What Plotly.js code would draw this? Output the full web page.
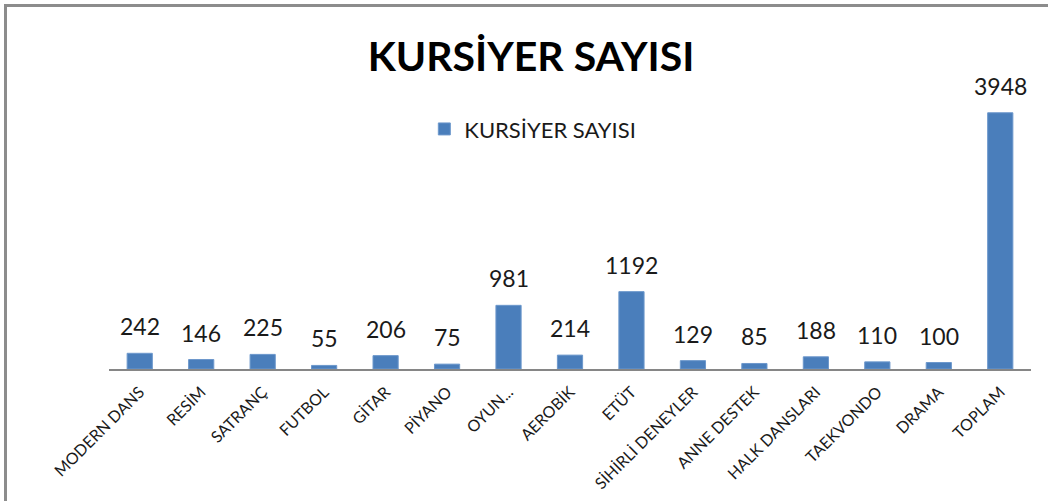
<!DOCTYPE html>
<html>
<head>
<meta charset="utf-8">
<script src="https://cdn.plot.ly/plotly-3.0.1.min.js"></script>
<style>
  html, body { margin: 0; padding: 0; background: #fff; }
  #chart { position: absolute; left: 0; top: 0; width: 1048px; height: 501px; }
  #frame { position: absolute; left: 4px; top: 4px; width: 1100px; height: 600px;
           border-left: 3px solid #8c8c8c; border-top: 3px solid #8c8c8c; pointer-events: none; }
</style>
</head>
<body>
<div id="chart"></div>
<div id="frame"></div>
<script>
const categories = ["MODERN DANS", "RESİM", "SATRANÇ", "FUTBOL", "GİTAR", "PİYANO", "OYUN...",
  "AEROBİK", "ETÜT", "SİHİRLİ DENEYLER", "ANNE DESTEK", "HALK DANSLARI", "TAEKVONDO", "DRAMA", "TOPLAM"];
const values = [242, 146, 225, 55, 206, 75, 981, 214, 1192, 129, 85, 188, 110, 100, 3948];
const seriesName = "KURSİYER SAYISI";
const chartTitle = "KURSİYER SAYISI";

const FONT = "Lato, 'Open Sans', sans-serif";

const trace = {
  type: "bar",
  name: seriesName,
  x: categories,
  y: values,
  marker: { color: "#4a7ebb", line: { color: "#6d98cc", width: 1 } },
  hoverinfo: "x+y"
};

const valueLabels = categories.map((c, i) => ({
  x: c,
  y: values[i],
  xref: "x",
  yref: "y",
  text: String(values[i]),
  showarrow: false,
  yanchor: "bottom",
  yshift: 11,
  font: { family: FONT, size: 23, color: "#1a1a1a" }
}));

const layout = {
  width: 1048,
  height: 501,
  margin: { l: 109, r: 17, t: 80, b: 132 },
  paper_bgcolor: "#ffffff",
  plot_bgcolor: "#ffffff",
  font: { family: FONT, color: "#1a1a1a" },
  title: {
    text: "<b>" + chartTitle + "</b>",
    font: { family: FONT, size: 41, color: "#000000" },
    x: 531 / 1048, xanchor: "center",
    y: 1 - 57 / 501, yanchor: "middle",
    xref: "container", yref: "container"
  },
  showlegend: true,
  legend: {
    orientation: "h",
    x: 0.342, xanchor: "left",
    y: 0.83, yanchor: "middle",
    font: { family: FONT, size: 22, color: "#1a1a1a" },
    bgcolor: "rgba(0,0,0,0)"
  },
  bargap: 0.59,
  annotations: valueLabels,
  xaxis: {
    type: "category",
    tickangle: -45,
    tickfont: { family: FONT, size: 16, color: "#1a1a1a" },
    ticklabelstandoff: 6,
    showline: true,
    linecolor: "#868686",
    linewidth: 1.5,
    ticks: "",
    showgrid: false,
    zeroline: false,
    automargin: false
  },
  yaxis: {
    range: [0, 4453],
    visible: false,
    showgrid: false,
    zeroline: false,
    fixedrange: true
  }
};

Plotly.newPlot("chart", [trace], layout, { displayModeBar: false, staticPlot: true });
</script>
</body>
</html>
